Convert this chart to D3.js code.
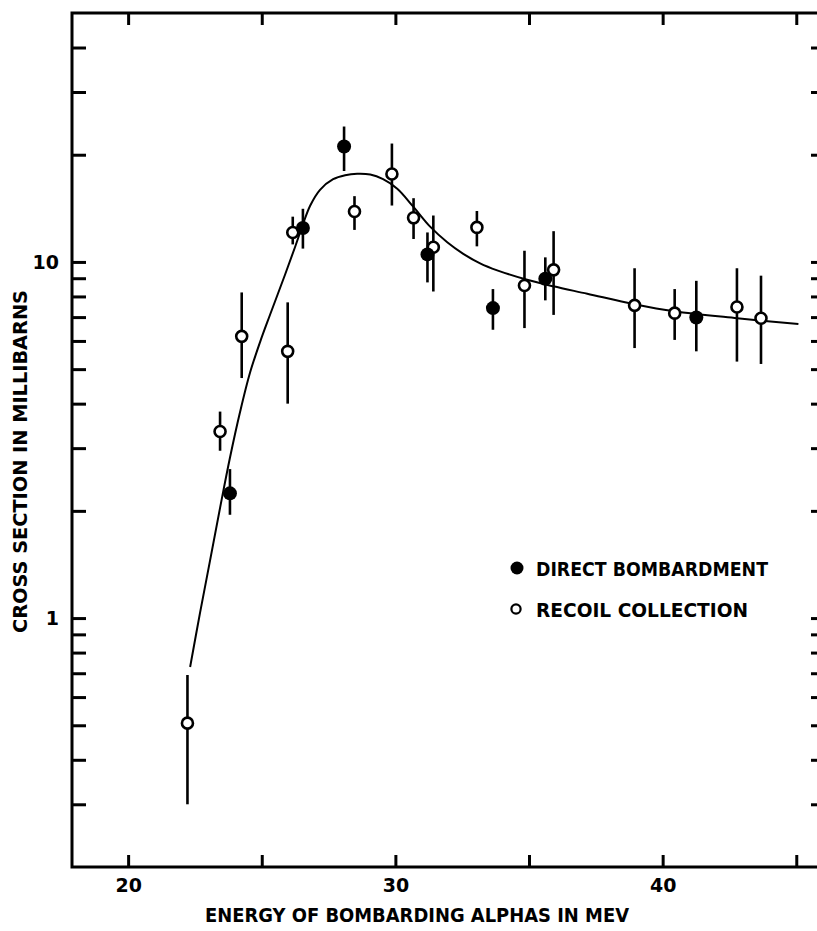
<!DOCTYPE html>
<html>
<head>
<meta charset="utf-8">
<script src="https://cdn.jsdelivr.net/npm/d3@7/dist/d3.min.js"></script>
<style>
body{margin:0;background:#fff;}
svg text{font-family:"DejaVu Sans",sans-serif;font-weight:bold;fill:#000;}
</style>
</head>
<body>
<svg id="chart" width="817" height="931"></svg>
<script>
// direct bombardment (filled dots): energy MeV, cross section mb, error bar low/high
var directE  = [23.81, 26.54, 28.08, 31.20, 33.65, 35.61, 41.26];
var directCs = [2.24, 12.45, 21.1, 10.5, 7.42, 8.97, 6.98];
var directLo = [1.95, 10.9, 18.0, 8.76, 6.45, 7.8, 5.61];
var directHi = [2.62, 14.1, 24.0, 12.1, 8.39, 10.3, 8.85];

// recoil collection (open dots)
var recoilE  = [22.22, 23.44, 24.25, 25.97, 26.16, 28.47, 29.87, 30.68, 31.42, 33.05, 34.83, 35.92, 38.95, 40.45, 42.78, 43.68];
var recoilCs = [0.507, 3.34, 6.18, 5.61, 12.1, 13.86, 17.65, 13.3, 11.0, 12.5, 8.59, 9.5, 7.55, 7.18, 7.47, 6.95];
var recoilLo = [0.30, 2.95, 4.72, 4.0, 11.2, 12.3, 14.4, 11.6, 8.26, 11.06, 6.52, 7.1, 5.73, 6.04, 5.25, 5.17];
var recoilHi = [0.692, 3.80, 8.21, 7.70, 13.4, 15.3, 21.5, 15.1, 13.5, 13.9, 10.75, 12.2, 9.6, 8.39, 9.6, 9.15];

// smooth curve drawn through the points
var curveE  = [22.32, 22.69, 23.07, 23.44, 23.81, 24.19, 24.56, 24.94, 25.31, 25.87, 26.25, 26.51, 26.81, 27.18, 27.67, 28.12, 28.57, 29.06, 29.54, 30.07, 30.67, 31.30, 31.94, 32.54, 33.17, 33.81, 34.93, 35.91, 37.18, 38.94, 40.44, 42.79, 45.08];
var curveCs = [0.729, 1.034, 1.457, 2.039, 2.818, 3.794, 4.882, 5.966, 7.106, 9.206, 11.03, 12.56, 14.38, 15.94, 17.07, 17.52, 17.69, 17.60, 17.07, 16.05, 14.29, 12.56, 11.36, 10.54, 9.91, 9.47, 8.91, 8.54, 8.14, 7.61, 7.27, 6.95, 6.69];

var xTicks  = [20, 25, 30, 35, 40, 45];
var xLabels = [20, 30, 40];
var yTicks  = [0.3, 0.4, 0.5, 0.6, 0.7, 0.8, 0.9, 1, 2, 3, 4, 5, 6, 7, 8, 9, 10, 20, 30, 40];
var yLabels = [1, 10];
var legendNames = ["DIRECT BOMBARDMENT", "RECOIL COLLECTION"];

var svg = d3.select("#chart");
var pLeft = 72, pRight = 823, pTop = 13, pBottom = 867;

var x = d3.scaleLinear().domain([17.9, 46.0]).range([pLeft, pRight]);
var y = d3.scaleLog().domain([0.2, 50]).range([pBottom, pTop]);

function tickAxis(g){
    g.select(".domain").remove();
    g.selectAll(".tick line").attr("stroke-width", 3);
}

// ticks, all pointing inwards
svg.append("g").attr("transform", "translate(0," + pBottom + ")")
    .call(d3.axisTop(x).tickValues(xTicks).tickSize(12).tickFormat(""))
    .call(tickAxis);
svg.append("g").attr("transform", "translate(0," + pTop + ")")
    .call(d3.axisBottom(x).tickValues(xTicks).tickSize(12).tickFormat(""))
    .call(tickAxis);
svg.append("g").attr("transform", "translate(" + pLeft + ",0)")
    .call(d3.axisRight(y).tickValues(yTicks).tickSize(14).tickFormat(""))
    .call(tickAxis);
svg.append("g").attr("transform", "translate(" + pRight + ",0)")
    .call(d3.axisLeft(y).tickValues(yTicks).tickSize(12).tickFormat(""))
    .call(tickAxis);

// tick labels
var xl = svg.append("g").attr("transform", "translate(0," + pBottom + ")")
    .call(d3.axisBottom(x).tickValues(xLabels).tickSize(0).tickFormat(d3.format("d")));
xl.select(".domain").remove();
xl.attr("font-size", 19);
xl.selectAll("text").attr("dy", null).attr("y", 25);

var yl = svg.append("g").attr("transform", "translate(" + pLeft + ",0)")
    .call(d3.axisLeft(y).tickValues(yLabels).tickSize(0).tickPadding(13).tickFormat(d3.format("d")));
yl.select(".domain").remove();
yl.attr("font-size", 19);

// frame
svg.append("rect")
    .attr("x", pLeft).attr("y", pTop)
    .attr("width", pRight - pLeft).attr("height", pBottom - pTop)
    .attr("fill", "none").attr("stroke", "#000").attr("stroke-width", 3);

// error bars
function errBars(E, lo, hi){
    svg.append("g").selectAll("line").data(E).enter().append("line")
        .attr("x1", function(d){ return x(d); })
        .attr("x2", function(d){ return x(d); })
        .attr("y1", function(d, i){ return y(lo[i]); })
        .attr("y2", function(d, i){ return y(hi[i]); })
        .attr("stroke", "#000").attr("stroke-width", 2.6);
}
errBars(directE, directLo, directHi);
errBars(recoilE, recoilLo, recoilHi);

// fitted curve
var line = d3.line()
    .x(function(d){ return x(d); })
    .y(function(d, i){ return y(curveCs[i]); })
    .curve(d3.curveCatmullRom.alpha(0.5));
svg.append("path").attr("d", line(curveE))
    .attr("fill", "none").attr("stroke", "#000").attr("stroke-width", 2);

// markers
svg.append("g").selectAll("circle").data(recoilE).enter().append("circle")
    .attr("cx", function(d){ return x(d); })
    .attr("cy", function(d, i){ return y(recoilCs[i]); })
    .attr("r", 5.5)
    .attr("fill", "#fff").attr("stroke", "#000").attr("stroke-width", 2.6);
svg.append("g").selectAll("circle").data(directE).enter().append("circle")
    .attr("cx", function(d){ return x(d); })
    .attr("cy", function(d, i){ return y(directCs[i]); })
    .attr("r", 7)
    .attr("fill", "#000");

// legend
svg.append("circle").attr("cx", 517).attr("cy", 568).attr("r", 6.5).attr("fill", "#000");
svg.append("circle").attr("cx", 516).attr("cy", 609).attr("r", 4.6)
    .attr("fill", "#fff").attr("stroke", "#000").attr("stroke-width", 2.2);
svg.append("text").attr("x", 536).attr("y", 576).attr("font-size", 20)
    .attr("textLength", 232).attr("lengthAdjust", "spacingAndGlyphs")
    .text(legendNames[0]);
svg.append("text").attr("x", 536).attr("y", 617).attr("font-size", 20)
    .attr("textLength", 212).attr("lengthAdjust", "spacingAndGlyphs")
    .text(legendNames[1]);

// axis titles
svg.append("text").attr("x", 205).attr("y", 922).attr("font-size", 20)
    .attr("textLength", 424).attr("lengthAdjust", "spacingAndGlyphs")
    .text("ENERGY OF BOMBARDING ALPHAS IN MEV");
svg.append("text")
    .attr("transform", "translate(27,633) rotate(-90)")
    .attr("font-size", 20)
    .attr("textLength", 343).attr("lengthAdjust", "spacingAndGlyphs")
    .text("CROSS SECTION IN MILLIBARNS");
</script>
</body>
</html>
